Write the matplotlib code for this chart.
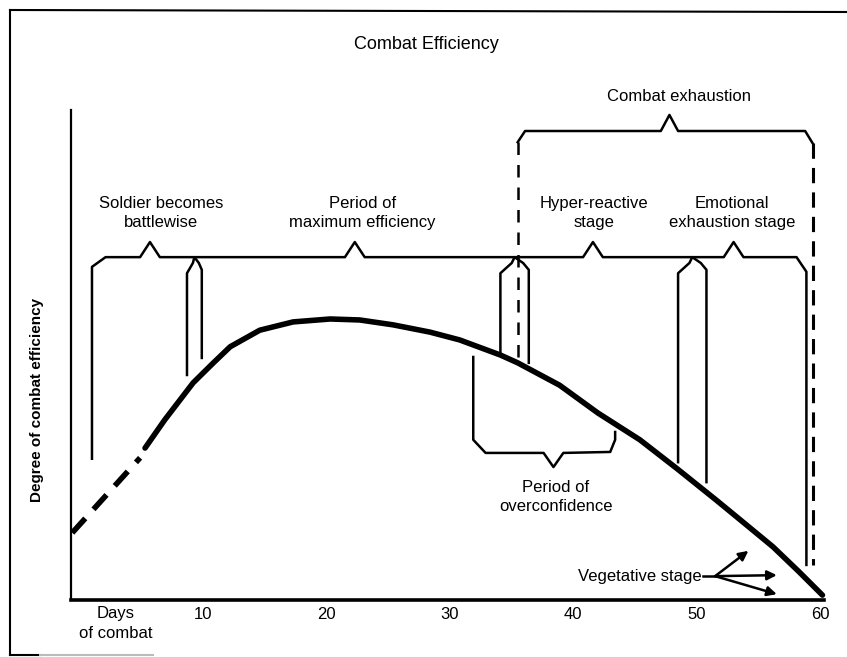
import matplotlib
matplotlib.use("Agg")
import matplotlib.pyplot as plt
from matplotlib.lines import Line2D

plt.rcParams['font.family'] = ['Liberation Sans', 'DejaVu Sans']

# efficiency curve (days of combat, degree of efficiency)
dash_days = [-0.6, 4.9]
dash_eff = [13.8, 29.2]
curve_days = [5.3, 6.9, 9.2, 10.8, 12.2, 14.6, 17.3, 20.3, 22.7, 25.4, 28.4, 30.8, 34.1,
              35.5, 38.9, 42.0, 45.4, 48.4, 51.6, 54.0, 56.2, 58.3, 60.2]
curve_eff = [31.2, 37.0, 44.6, 48.6, 52.0, 55.4, 57.1, 57.7, 57.5, 56.5, 55.0, 53.4, 50.3,
             48.7, 44.1, 38.4, 32.9, 27.0, 20.5, 15.5, 10.9, 5.8, 1.0]

xticks = [10, 20, 30, 40, 50, 60]

# stage labels and where their bracket peaks sit
stage_names = ["Soldier becomes\nbattlewise", "Period of\nmaximum efficiency",
               "Hyper-reactive\nstage", "Emotional\nexhaustion stage"]
stage_peaks = [5.7, 22.3, 41.6, 53.0]
# stage boundary pairs (day) and how far down each line goes
boundary_left = [8.7, 34.1, 48.5]
boundary_right = [9.9, 36.4, 50.8]
boundary_left_end = [46.2, 50.7, 28.3]
boundary_right_end = [49.7, 48.7, 24.2]
start_day = 1.0
end_day = 58.9
exhaust_start = 35.5
exhaust_end = 59.4
overconf_start = 31.9
overconf_end = 43.4

fig = plt.figure(figsize=(8.47, 6.57), dpi=100)
ax = fig.add_axes([71/847, 57/657, 776/847, 600/657])
ax.set_xlim(-0.7, 62.19)
ax.set_ylim(0, 123.2)

for s in ['top', 'right']:
    ax.spines[s].set_visible(False)
ax.spines['left'].set_bounds(0, 100.6)
ax.spines['left'].set_linewidth(1.6)
ax.spines['bottom'].set_bounds(-0.7, 60.3)
ax.spines['bottom'].set_linewidth(2.6)
ax.set_xticks(xticks)
ax.set_xticklabels([str(t) for t in xticks], fontsize=12)
ax.set_yticks([])
ax.tick_params(axis='x', length=0, pad=5)

# the curve
ax.plot(dash_days, dash_eff, color='black', lw=4, dashes=(3.5, 2.2), solid_capstyle='butt')
ax.plot(curve_days, curve_eff, color='black', lw=4, solid_capstyle='round')

lw = 1.8
# long bracket over the stages
line_y = 70.4
xs = [start_day, start_day, start_day + 1.1]
ys = [29.0, 68.4, line_y]
for p in stage_peaks:
    xs += [p - 0.8, p, p + 0.8]
    ys += [line_y, 73.5, line_y]
xs += [end_day - 0.8, end_day, end_day]
ys += [line_y, 67.4, 7.2]
ax.plot(xs, ys, color='black', lw=lw)

# little caps where the stages overlap
for a, b, ea, eb in zip(boundary_left, boundary_right, boundary_left_end, boundary_right_end):
    m = (a + b) / 2
    ax.plot([a, a, a + 0.4 * (b - a), m, b - 0.2 * (b - a), b, b],
            [ea, 67.1, 69.2, line_y, 69.2, 67.8, eb], color='black', lw=lw)

# combat exhaustion bracket with dashed lines
ax.plot([exhaust_start, exhaust_start + 0.6, 47.1, 47.8, 48.5, exhaust_end - 0.6, exhaust_end],
        [94.0, 96.3, 96.3, 99.6, 96.3, 96.3, 93.8], color='black', lw=lw)
ax.plot([exhaust_start, exhaust_start], [94.0, 48.7], color='black', lw=1.8, dashes=(5, 4))
ax.plot([exhaust_end, exhaust_end], [93.8, 7.2], color='black', lw=2.2, dashes=(5, 3))
ax.text(48.6, 103.3, "Combat exhaustion", ha='center', va='center', fontsize=12)

# overconfidence bracket under the curve
ax.plot([overconf_start, overconf_start, overconf_start + 1.0, 37.6, 38.4, 39.2,
         overconf_end - 0.4, overconf_end, overconf_end],
        [49.9, 32.9, 30.2, 30.2, 27.3, 30.2, 30.4, 32.9, 34.5], color='black', lw=lw)
ax.text(38.6, 21.1, "Period of\noverconfidence", ha='center', va='center',
        fontsize=12, linespacing=1.35)

for name, p in zip(stage_names, [6.6, 22.9, 41.7, 52.9]):
    ax.text(p, 79.4, name, ha='center', va='center', fontsize=12, linespacing=1.35)

# vegetative stage arrows
ax.text(50.4, 4.8, "Vegetative stage", ha='right', va='center', fontsize=12)
ax.plot([50.5, 51.5], [4.9, 4.9], color='black', lw=1.8)
for tx, ty in [(54.2, 10.1), (56.5, 5.1), (56.5, 1.2)]:
    ax.annotate("", xy=(tx, ty), xytext=(51.5, 4.9),
                arrowprops=dict(arrowstyle='-|>', color='black', lw=1.8,
                                mutation_scale=14, shrinkA=0, shrinkB=0))

ax.text(2.9, -2.7, "Days", ha='center', va='center', fontsize=12, clip_on=False)
ax.text(2.9, -6.8, "of combat", ha='center', va='center', fontsize=12, clip_on=False)
ax.text(28.1, 114.0, "Combat Efficiency", ha='center', va='center', fontsize=13)

fig.text(37/847, 1 - 400/657, "Degree of combat efficiency", rotation=90,
         ha='center', va='center', fontsize=11, fontweight='bold')

# outer frame of the scan
fig.add_artist(Line2D([10/847, 10/847], [1 - 655/657, 1 - 10/657], color='black', lw=1.5))
fig.add_artist(Line2D([10/847, 1.0], [1 - 10/657, 1 - 12/657], color='black', lw=1.5))
fig.add_artist(Line2D([10/847, 40/847], [1 - 655/657, 1 - 655/657], color='black', lw=1.5))
fig.add_artist(Line2D([40/847, 153/847], [1 - 655/657, 1 - 655/657], color='#bbbbbb', lw=1.5))

fig.savefig("out.png", dpi=100)
